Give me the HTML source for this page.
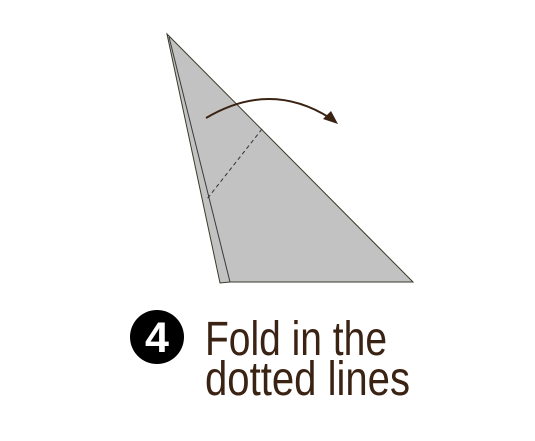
<!DOCTYPE html>
<html><head><meta charset="utf-8"><style>html,body{margin:0;padding:0;background:#fff;width:535px;height:441px;overflow:hidden}</style></head>
<body>
<svg width="535" height="441" viewBox="0 0 535 441">
  <g>
    <polygon points="167,34 413,282 230,282 220,283" fill="#c2c2c2" stroke="#3a3a2a" stroke-width="1"/>
    <line x1="169" y1="37" x2="230" y2="282" stroke="#3a3a3a" stroke-width="1"/>
  </g>
  <line x1="262" y1="129" x2="207" y2="199" stroke="#333" stroke-width="1" stroke-dasharray="4,3"/>
  <g>
    <path d="M206,118 Q270,80 330,118" fill="none" stroke="#3b2314" stroke-width="2"/>
    <polygon points="338,124 323,119 331,111" fill="#3b2314"/>
  </g>
  <g>
    <circle cx="157" cy="337" r="27" fill="#000"/>
    <text x="157" y="352" text-anchor="middle" font-family="Liberation Sans, sans-serif" font-weight="bold" font-size="43" fill="#fff">4</text>
  </g>
  <text x="205" y="355" font-family="Liberation Sans, sans-serif" font-size="48" fill="#3b2314" textLength="182" lengthAdjust="spacingAndGlyphs">Fold in the</text>
  <text x="205" y="395" font-family="Liberation Sans, sans-serif" font-size="48" fill="#3b2314" textLength="205" lengthAdjust="spacingAndGlyphs">dotted lines</text>
</svg>
</body></html>
